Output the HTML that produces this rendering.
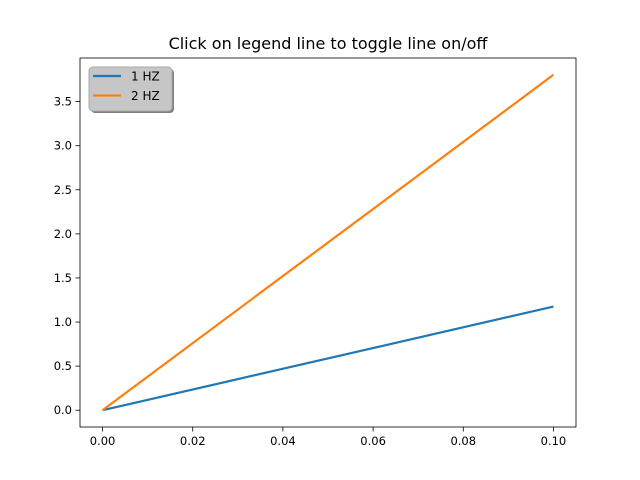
<!DOCTYPE html>
<html><head><meta charset="utf-8"><style>
body{margin:0;background:#fff;}
svg{display:block;font-family:"DejaVu Sans","Liberation Sans",sans-serif;}
</style></head><body>
<svg id="chart" width="640" height="480">
<rect width="640" height="480" fill="#fff"/>
<text x="328" y="49" text-anchor="middle" font-size="16">Click on legend line to toggle line on/off</text>
<g id="plot"></g>
</svg>
<script>
const xValues=[0.0,0.1];
const series1=[0,1.1756];
const series2=[0,3.8042];
const seriesNames=["1 HZ","2 HZ"];
const xTicks=[0.00,0.02,0.04,0.06,0.08,0.10];
const yTicks=[0.0,0.5,1.0,1.5,2.0,2.5,3.0,3.5];
const L=80,R=576,T=58,B=427;
const xmin=-0.005,xmax=0.105,ymin=-0.1902,ymax=3.9944;
const sx=v=>L+(v-xmin)/(xmax-xmin)*(R-L);
const sy=v=>B-(v-ymin)/(ymax-ymin)*(B-T);
const NS="http://www.w3.org/2000/svg";
const g=document.getElementById('plot');
function mk(t,a){const e=document.createElementNS(NS,t);for(const k in a)e.setAttribute(k,a[k]);g.appendChild(e);return e;}
xTicks.forEach(v=>{
 const l=mk('line',{x1:sx(v),x2:sx(v),y1:B,y2:B+4.5,stroke:'#000','stroke-width':0.8});
 
 
 const t=mk('text',{x:sx(v),y:B+18,'text-anchor':'middle','font-size':11.5});
 t.textContent=v.toFixed(2);
 
 
});
yTicks.forEach(v=>{
 const l=mk('line',{x1:L-4.5,x2:L,y1:sy(v),y2:sy(v),stroke:'#000','stroke-width':0.8});
 
 
 const t=mk('text',{x:L-8,y:sy(v)+4,'text-anchor':'end','font-size':11.5});
 t.textContent=v.toFixed(1);
 
 
});
const colors=['#1f77b4','#ff7f0e'];
[series1,series2].forEach((s,i)=>{
 const pts=s.map((y,j)=>sx(xValues[j])+','+sy(y)).join(' ');
 const p=mk('polyline',{points:pts,fill:'none',stroke:colors[i],'stroke-width':2.2});
 
 
});
const frame=mk('rect',{x:L,y:T,width:R-L,height:B-T,fill:'none',stroke:'#000','stroke-width':0.8});


const sh=mk('rect',{x:91,y:69,width:83,height:44,rx:4,fill:'#7f7f7f'});


const lb=mk('rect',{x:89,y:67,width:83,height:44,rx:4,fill:'#c6c6c6',stroke:'#a8a8a8','stroke-width':1});


seriesNames.forEach((n,i)=>{
 const y=76+i*19.5;
 const l=mk('line',{x1:93,x2:121,y1:y,y2:y,stroke:colors[i],'stroke-width':2.2});
 
 
 const t=mk('text',{x:131,y:y+4.5,'font-size':12});
 t.textContent=n;
 
 
});
</script>
</body></html>
